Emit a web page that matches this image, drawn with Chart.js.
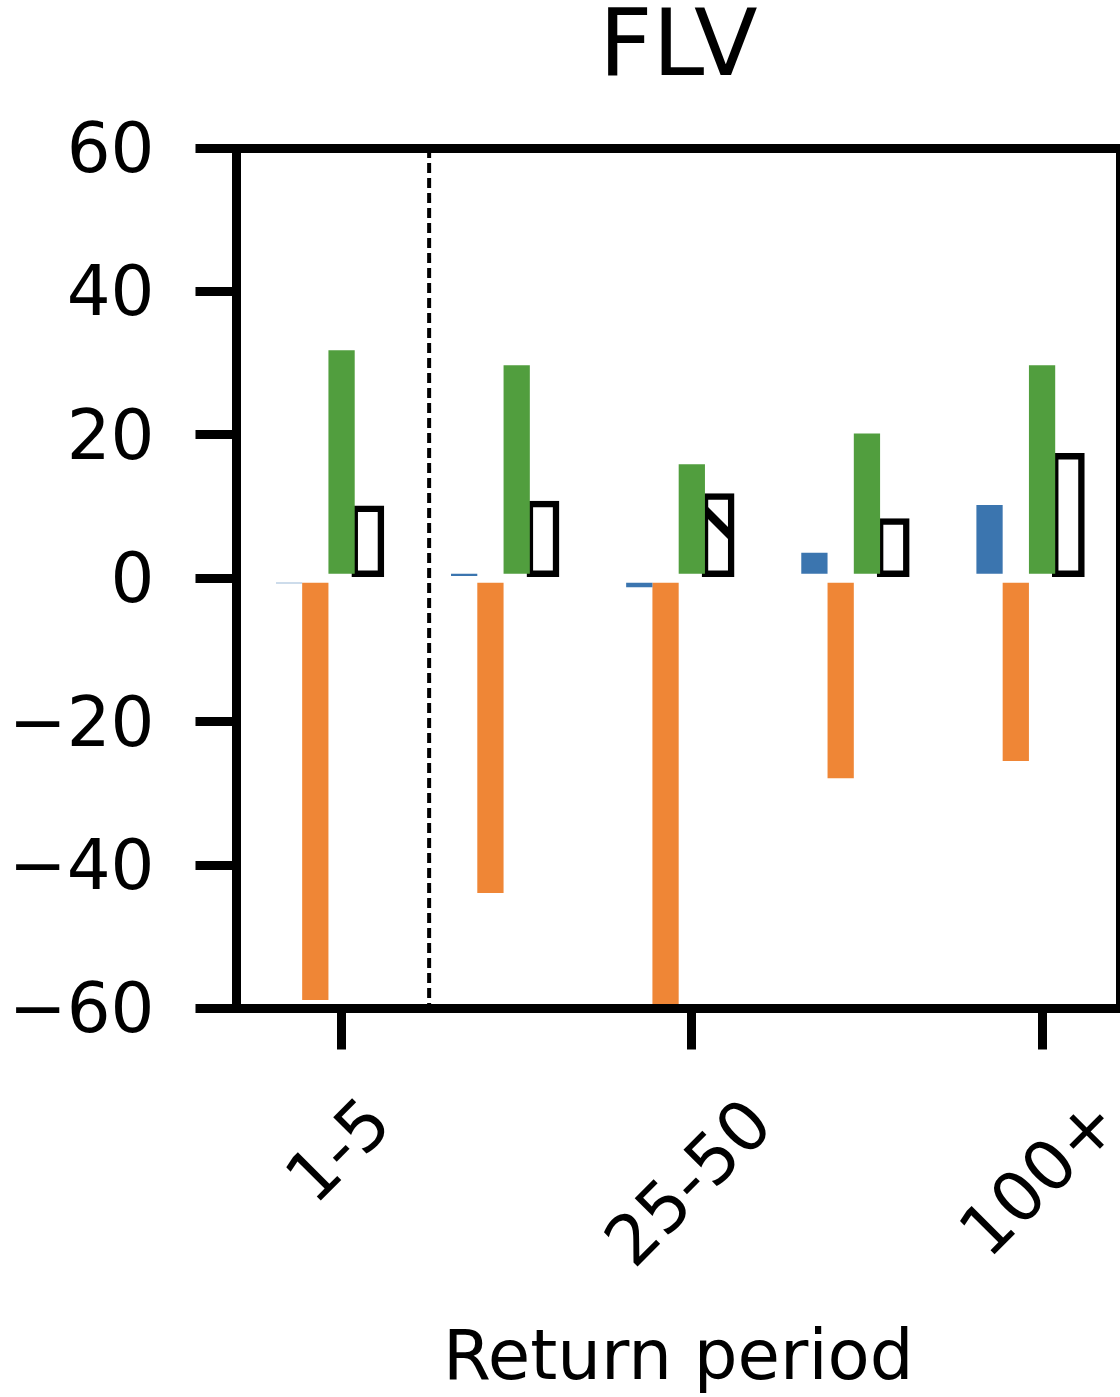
<!DOCTYPE html>
<html>
<head>
<meta charset="utf-8">
<script src="https://cdn.jsdelivr.net/npm/chart.js@4.4.0/dist/chart.umd.min.js"></script>
<style>
  html, body { margin: 0; padding: 0; background: #ffffff; overflow: hidden; }
  #wrap { width: 1120px; height: 1397px; }
  canvas { display: block; }
</style>
</head>
<body>
<div id="wrap"><canvas id="c" width="1120" height="1397" style="width:1120px;height:1397px"></canvas></div>
<script>
// ---------------- data ----------------
const categories = ['1-5', '5-25', '25-50', '50-100', '100+'];
const shownTicks = [0, 2, 4];
const yTicks = [-60, -40, -20, 0, 20, 40, 60];
const seriesBlue = [-0.7, 0.3, -1.25, 3.55, 10.2];
const seriesOrange = [-58.8, -43.9, -60.5, -27.9, -25.5];
const seriesGreen = [31.8, 29.7, 15.9, 20.2, 29.7];
const seriesOutline = [9.7, 10.35, 11.4, 7.9, 17.0];
const separatorAt = 0.5;
const titleText = 'FLV';
const xTitleText = 'Return period';

// ---------------- helpers ----------------
const FAMILY = '"DejaVu Sans"';
const yMin = yTicks[0], yMax = yTicks[yTicks.length - 1];
const toXY = arr => arr.map((v, i) => ({ x: i, y: v }));
const fmt = v => String(v).replace('-', '\u2212');

function makeHatch() {
  const s = 270;
  const c = document.createElement('canvas');
  c.width = s; c.height = s;
  const g = c.getContext('2d');
  g.fillStyle = '#ffffff';
  g.fillRect(0, 0, s, s);
  g.strokeStyle = '#000000';
  g.lineWidth = 8.5;
  for (let k = -1; k <= 1; k++) {
    const off = 75 + k * s;
    g.beginPath();
    g.moveTo(-20, -20 + off);
    g.lineTo(s + 20, s + 20 + off);
    g.stroke();
  }
  return g.createPattern(c, 'repeat');
}
const hatch = makeHatch();

// rotated (45°) x tick labels, centred like matplotlib
const xLabelPlugin = {
  id: 'rotatedXLabels',
  afterDraw(chart) {
    const s = chart.scales.x;
    const ctx = chart.ctx;
    const fs = 69;
    const A = 0.76 * fs, D = 0.208 * fs, c = Math.SQRT1_2;
    const boxTop = s.top + s.options.grid.tickLength + 44.5;
    ctx.save();
    ctx.font = fs + 'px ' + FAMILY;
    ctx.fillStyle = '#000000';
    ctx.textAlign = 'left';
    ctx.textBaseline = 'alphabetic';
    s.ticks.forEach(t => {
      const label = categories[t.value];
      if (label === undefined) return;
      const m = ctx.measureText(label);
      const L = -m.actualBoundingBoxLeft, R = m.actualBoundingBoxRight;
      const px = s.getPixelForValue(t.value);
      const ox = px - c * ((L + R) / 2 + (D - A) / 2);
      const oy = boxTop + c * (A + R);
      ctx.save();
      ctx.translate(ox, oy);
      ctx.rotate(-Math.PI / 4);
      ctx.fillText(label, 0, 0);
      ctx.restore();
    });
    ctx.restore();
  }
};

const spine = { display: true, width: 9, color: '#000000', z: 1 };

new Chart(document.getElementById('c'), {
  type: 'bar',
  data: {
    datasets: [
      { label: 'A', data: toXY(seriesBlue), backgroundColor: '#3b75af', borderWidth: 0 },
      { label: 'B', data: toXY(seriesOrange), backgroundColor: '#ef8636', borderWidth: 0 },
      { label: 'C', data: toXY(seriesGreen), backgroundColor: '#519e3e', borderWidth: 0 },
      { label: 'D', data: toXY(seriesOutline), backgroundColor: hatch, borderColor: '#000000',
        borderWidth: 6.5, borderSkipped: false, inflateAmount: 3.25 },
      { label: 'slot', data: [], backgroundColor: 'rgba(0,0,0,0)', borderWidth: 0 },
      { type: 'line', label: 'sep', data: [{ x: separatorAt, y: yMax }, { x: separatorAt, y: yMin }],
        borderColor: '#000000', borderWidth: 4, borderDash: [10, 5], pointRadius: 0, fill: false }
    ]
  },
  options: {
    responsive: false,
    animation: false,
    events: [],
    layout: { padding: { left: 0, right: 0, top: 0, bottom: 0 } },
    datasets: { bar: { categoryPercentage: 0.75, barPercentage: 1 } },
    plugins: {
      legend: { display: false },
      tooltip: { enabled: false },
      title: {
        display: true, text: titleText, position: 'top', fullSize: false, color: '#000000',
        font: { family: FAMILY, size: 93, weight: 'normal', lineHeight: 1 },
        padding: { top: 4, bottom: 51 }
      }
    },
    scales: {
      x: {
        type: 'linear', position: 'bottom', min: -0.6, max: 4.445, bounds: 'data', offset: false,
        afterBuildTicks: s => { s.ticks = shownTicks.map(v => ({ value: v })); },
        ticks: { display: false },
        grid: { offset: false, drawOnChartArea: false, drawTicks: true, tickLength: 41, lineWidth: 9, color: '#000000' },
        border: spine,
        title: {
          display: true, text: xTitleText, color: '#000000',
          font: { family: FAMILY, size: 69, lineHeight: 1 },
          padding: { top: 0, bottom: 1.5 }
        },
        afterFit: s => { s.height = 388.5; }
      },
      xTop: {
        type: 'linear', position: 'top', min: -0.6, max: 4.445, bounds: 'data', offset: false,
        ticks: { display: false },
        grid: { display: false, drawTicks: false, offset: false },
        border: spine,
        afterFit: s => { s.height = 0; }
      },
      y: {
        type: 'linear', position: 'left', min: yMin, max: yMax, bounds: 'data',
        afterBuildTicks: s => { s.ticks = yTicks.map(v => ({ value: v })); },
        ticks: {
          autoSkip: false, color: '#000000', padding: 41, labelOffset: 6,
          font: { family: FAMILY, size: 69 },
          callback: v => fmt(v)
        },
        grid: { drawOnChartArea: false, drawTicks: true, tickLength: 41, lineWidth: 9, color: '#000000' },
        border: spine,
        afterFit: s => { s.width = 236.5; }
      },
      yRight: {
        type: 'linear', position: 'right', min: yMin, max: yMax, bounds: 'data',
        ticks: { display: false },
        grid: { display: false, drawTicks: false },
        border: spine,
        afterFit: s => { s.width = 0; }
      }
    }
  },
  plugins: [xLabelPlugin]
});
</script>
</body>
</html>
